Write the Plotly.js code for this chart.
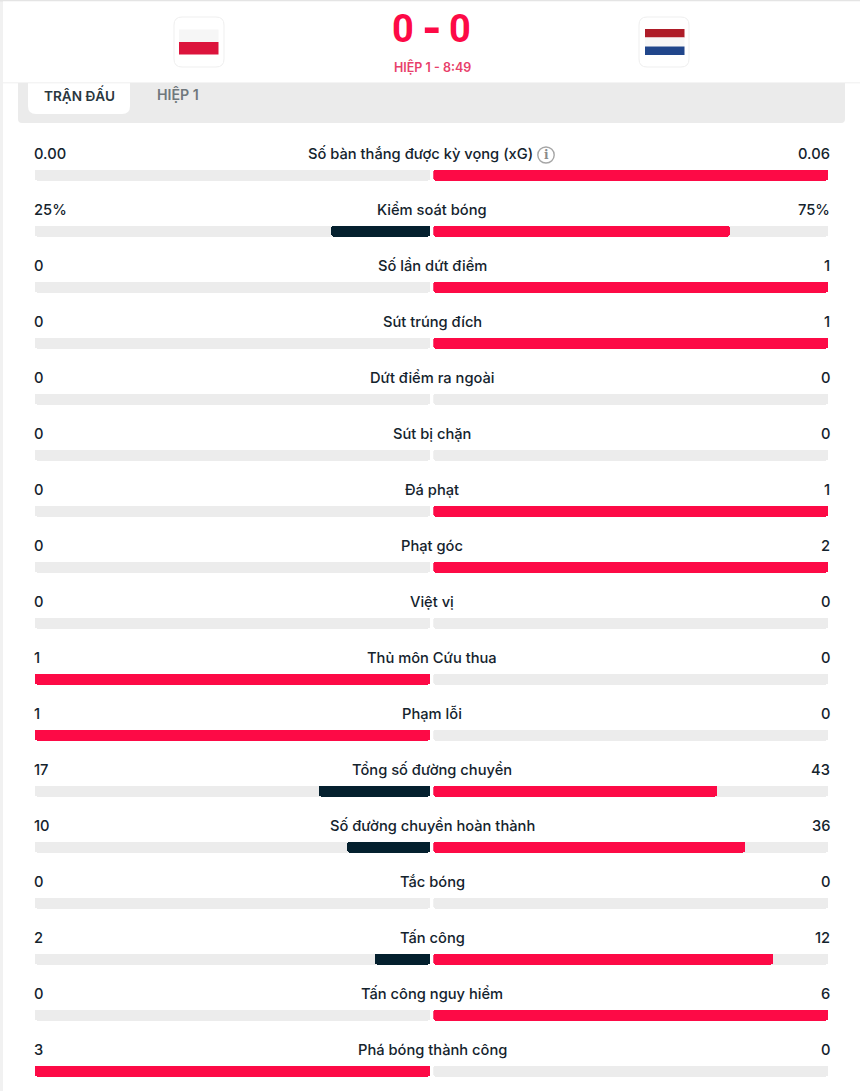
<!DOCTYPE html>
<html><head><meta charset="utf-8">
<script src="https://cdn.plot.ly/plotly-3.0.1.min.js"></script>
<style>html,body{margin:0;padding:0;background:#fff}#c{width:860px;height:1091px}</style></head>
<body><div id="c"></div><script>
const categories=["Số bàn thắng được kỳ vọng (xG)","Kiểm soát bóng","Số lần dứt điểm","Sút trúng đích","Dứt điểm ra ngoài","Sút bị chặn","Đá phạt","Phạt góc","Việt vị","Thủ môn Cứu thua","Phạm lỗi","Tổng số đường chuyền","Số đường chuyền hoàn thành","Tắc bóng","Tấn công","Tấn công nguy hiểm","Phá bóng thành công"];
const homeLabels=["0.00","25%","0","0","0","0","0","0","0","1","1","17","10","0","2","0","3"];
const awayLabels=["0.06","75%","1","1","0","0","1","2","0","0","0","43","36","0","12","6","0"];
const homeShare=[0,0.25,0,0,0,0,0,0,0,1,1,0.281,0.209,0,0.139,0,1];
const awayShare=[1,0.75,1,1,0,0,1,1,0,0,0,0.719,0.79,0,0.86,1,0];
const RED="#fd0a46",DARK="#04202e",TRACK="#ececec",INK="#14232d";
const colour=(a,b)=>a>b?RED:DARK;
const full=categories.map(()=>1);
const W=860,H=1091,ROW=56,FIRST=175;
const bar=(x,color,xa)=>({type:"bar",orientation:"h",x:x,base:x.map(()=>0),y:categories,xaxis:xa,yaxis:"y",width:11/ROW,
  marker:{color:color,cornerradius:2.5,line:{width:0}},hoverinfo:"skip",showlegend:false});
const traces=[
  bar(full,TRACK,"x"),bar(full,TRACK,"x2"),
  bar(homeShare,homeShare.map((v,i)=>colour(v,awayShare[i])),"x"),
  bar(awayShare,awayShare.map((v,i)=>colour(v,homeShare[i])),"x2")
];
const hidden={showgrid:false,zeroline:false,showticklabels:false,ticks:"",showline:false,fixedrange:true};
const rr=(x0,y0,x1,y1,r)=>`M${x0+r},${y0}L${x1-r},${y0}Q${x1},${y0} ${x1},${y0+r}L${x1},${y1-r}Q${x1},${y1} ${x1-r},${y1}L${x0+r},${y1}Q${x0},${y1} ${x0},${y1-r}L${x0},${y0+r}Q${x0},${y0} ${x0+r},${y0}Z`;
const px=(o)=>Object.assign({xref:"x3",yref:"y3",layer:"below",line:{width:0}},o);
const rect=(x0,y0,x1,y1,c)=>px({type:"rect",x0,y0,x1,y1,fillcolor:c});
const path=(d,fill,lc,lw)=>px({type:"path",path:d,fillcolor:fill,line:{color:lc||fill,width:lw||0}});
const shapes=[
  rect(0,0,3,H,"#f1f1f1"),rect(0,0,W,1.5,"#e4e4e4"),
  path(rr(18,70,845,123,4),"#ebebeb"),
  path(rr(28,70,130,114,8),"#ffffff"),
  rect(3,1.5,W,83,"#ffffff"),rect(3,82.6,W,83.2,"#e9e9e9"),
  path(rr(174,17,224,67,8),"#ffffff","#efefef",1),
  path(rr(639,17,689,67,8),"#ffffff","#efefef",1),
  rect(179,29.5,218.5,42,"#f6f6f6"),rect(179,42,218.5,54.5,"#dc143c"),
  rect(645,29,684.5,37.6,"#ae1c28"),rect(645,37.6,684.5,46.4,"#f7f7f7"),rect(645,46.4,684.5,55,"#21468b"),
  px({type:"circle",x0:537.8,y0:147,x1:554.2,y1:163,fillcolor:"rgba(0,0,0,0)",line:{color:"#a6a6a6",width:1.4}})
];
const F="Inter, sans-serif";
const pxText=(text,x,y,size,color,weight,anchor,family)=>({text,x,y,xref:"x3",yref:"y3",xanchor:anchor||"center",yanchor:"middle",showarrow:false,
  font:{family:family||F,size,color,weight:weight||500}});
const annotations=[
  pxText("0",403,28.5,38,RED,700,"center","Roboto, sans-serif"),pxText("-",431.5,28.5,50,RED,700,"center","Roboto, sans-serif"),pxText("0",460,28.5,38,RED,700,"center","Roboto, sans-serif"),
  pxText("HIỆP 1 - 8:49",432,67,12.5,"#e8406a",600),
  pxText("TRẬN ĐẤU",79.5,94,13.6,"#2a3740",600),pxText("HIỆP 1",178,94,14.2,"#6f777c",600),
  pxText("i",546,154.5,12,"#8a8a8a",600,"center","DejaVu Serif, serif")
];
categories.forEach((c,i)=>{
  const mk=(text,x,anchor)=>({text,x,y:c,xref:"x3",yref:"y",xanchor:anchor,yanchor:"middle",yshift:21,showarrow:false,
    font:{family:F,size:14.7,color:INK,weight:500}});
  annotations.push(mk(homeLabels[i],31.5,"left"),mk(awayLabels[i],832,"right"),
    mk(c,i===0?420.5:432,"center"));
});
const layout={width:W,height:H,margin:{l:0,r:0,t:0,b:0,pad:0},paper_bgcolor:"#fff",plot_bgcolor:"rgba(0,0,0,0)",
  barmode:"overlay",bargap:0,showlegend:false,
  xaxis:Object.assign({domain:[35/W,430/W],range:[1,0],anchor:"y"},hidden),
  xaxis2:Object.assign({domain:[433.3/W,828.3/W],range:[0,1],anchor:"y"},hidden),
  xaxis3:Object.assign({domain:[0,1],range:[0,W],anchor:"y3"},hidden),
  yaxis:Object.assign({domain:[0,1],type:"category",categoryorder:"array",categoryarray:categories,
    range:[(H-FIRST)/ROW,-FIRST/ROW]},hidden),
  yaxis3:Object.assign({domain:[0,1],range:[H,0],anchor:"x3"},hidden),
  shapes,annotations};
Plotly.newPlot("c",traces,layout,{displayModeBar:false,staticPlot:true});
</script></body></html>
